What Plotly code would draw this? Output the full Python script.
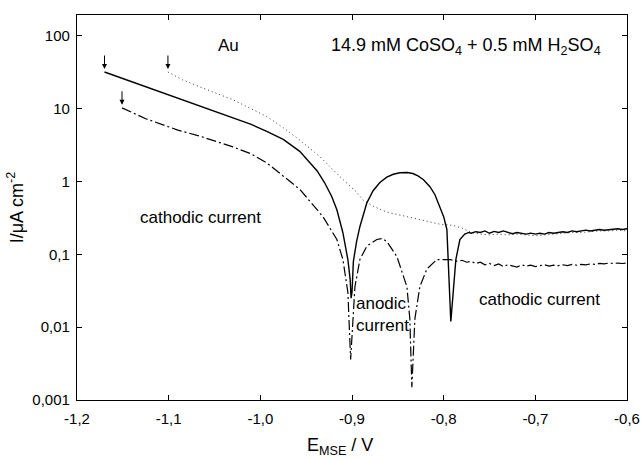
import math
import plotly.graph_objects as go

# Solid curve
E_solid = [-1.170, -1.150, -1.130, -1.100, -1.065, -1.030, -1.010, -0.993, -0.975, -0.957,
           -0.949, -0.938, -0.930, -0.922, -0.9165, -0.910, -0.9045, -0.9020, -0.9010, -0.9000,
           -0.8985, -0.8950, -0.8914, -0.8875, -0.8838, -0.8770, -0.8696, -0.8620, -0.8550, -0.8478,
           -0.8400, -0.8336, -0.8280, -0.8220, -0.8150, -0.8095, -0.8041, -0.8000, -0.7965, -0.7943,
           -0.7922, -0.7900, -0.7867, -0.7823, -0.7770,
           -0.7725, -0.7700, -0.7650, -0.7600, -0.7550, -0.7500, -0.7450, -0.7400, -0.7350, -0.7300,
           -0.7250, -0.7200, -0.7150, -0.7100, -0.7050, -0.7000, -0.6950, -0.6900, -0.6850, -0.6800,
           -0.6750, -0.6700, -0.6650, -0.6600, -0.6550, -0.6500, -0.6450, -0.6400, -0.6350, -0.6300,
           -0.6250, -0.6200, -0.6150, -0.6100, -0.6050, -0.6000]
I_solid = [32, 26, 21, 15.5, 10.9, 7.6, 6.1, 4.9, 3.8, 2.6,
           2.0, 1.4, 0.97, 0.62, 0.41, 0.20, 0.085, 0.045, 0.025, 0.03,
           0.08, 0.15, 0.24, 0.36, 0.51, 0.75, 0.97, 1.15, 1.26, 1.32,
           1.33, 1.29, 1.2, 1.06, 0.85, 0.66, 0.46, 0.33, 0.22, 0.063,
           0.012, 0.026, 0.085, 0.16, 0.19,
           0.20, 0.195, 0.205, 0.20, 0.21, 0.195, 0.207, 0.20, 0.21, 0.20,
           0.192, 0.20, 0.195, 0.19, 0.196, 0.19, 0.195, 0.19, 0.20, 0.195,
           0.20, 0.205, 0.20, 0.21, 0.205, 0.21, 0.215, 0.21, 0.215, 0.22,
           0.215, 0.22, 0.22, 0.225, 0.22, 0.225]

# Dotted curve
E_dot = [-1.1008, -1.085, -1.0659, -1.045, -1.0299, -1.010, -0.9928, -0.975, -0.9568, -0.935,
         -0.9132, -0.8947, -0.8881, -0.8772, -0.862, -0.8401, -0.820, -0.8041, -0.790, -0.7800,
         -0.7700, -0.7600, -0.7500, -0.7400, -0.7300, -0.7200, -0.7100, -0.7000, -0.6900, -0.6800,
         -0.6700, -0.6600, -0.6500, -0.6400, -0.6300, -0.6200, -0.6100, -0.6000]
I_dot = [32, 25, 20, 16, 13.3, 10, 7.8, 5.5, 3.7, 2.2,
         1.17, 0.71, 0.56, 0.46, 0.38, 0.33, 0.29, 0.26, 0.25, 0.23,
         0.20, 0.19, 0.185, 0.19, 0.185, 0.19, 0.185, 0.18, 0.185, 0.19,
         0.195, 0.20, 0.20, 0.205, 0.21, 0.21, 0.215, 0.21]

# Dash-dot curve
E_dd = [-1.1509, -1.1250, -1.090, -1.0659, -1.0299, -1.010, -0.9928, -0.975, -0.9568, -0.9450,
        -0.9317, -0.9165, -0.9099, -0.9045, -0.9015, -0.8968, -0.8914, -0.8838, -0.8729, -0.867,
        -0.8619, -0.851, -0.8401, -0.8369, -0.8347, -0.8314, -0.826, -0.8183, -0.8074, -0.7930,
        -0.7850, -0.7800, -0.7750, -0.7700, -0.7650, -0.7600, -0.7550, -0.7500, -0.7450, -0.7400,
        -0.7350, -0.7300, -0.7250, -0.7200, -0.7150, -0.7100, -0.7050, -0.7000, -0.6950, -0.6900,
        -0.6850, -0.6800, -0.6750, -0.6700, -0.6650, -0.6600, -0.6550, -0.6500, -0.6450, -0.6400,
        -0.6350, -0.6300, -0.6250, -0.6200, -0.6150, -0.6100, -0.6050, -0.6000]
I_dd = [10.3, 7.3, 5.1, 4.2, 3.0, 2.4, 1.8, 1.2, 0.78, 0.52,
        0.33, 0.16, 0.085, 0.03, 0.0036, 0.036, 0.085, 0.13, 0.16, 0.165,
        0.15, 0.093, 0.036, 0.013, 0.0015, 0.013, 0.036, 0.063, 0.085, 0.085,
        0.08, 0.083, 0.078, 0.08, 0.075, 0.078, 0.072, 0.075, 0.07, 0.074,
        0.068, 0.072, 0.07, 0.067, 0.072, 0.069, 0.071, 0.068, 0.07, 0.072,
        0.069, 0.071, 0.07, 0.072, 0.07, 0.073, 0.071, 0.073, 0.072, 0.074,
        0.073, 0.075, 0.074, 0.076, 0.075, 0.076, 0.075, 0.076]

x_ticks = [-1.2, -1.1, -1.0, -0.9, -0.8, -0.7, -0.6]
x_ticktext = ["-1,2", "-1,1", "-1,0", "-0,9", "-0,8", "-0,7", "-0,6"]
y_ticks = [0.001, 0.01, 0.1, 1, 10, 100]
y_ticktext = ["0,001", "0,01", "0,1", "1", "10", "100"]

FONT = "Liberation Sans, Arial, sans-serif"

fig = go.Figure()
fig.add_trace(go.Scatter(x=E_dot, y=I_dot, mode="lines",
                         line=dict(color="#333333", width=1, dash="1px,3px")))
fig.add_trace(go.Scatter(x=E_dd, y=I_dd, mode="lines",
                         line=dict(color="black", width=1.2, dash="10px,3px,2px,3px")))
fig.add_trace(go.Scatter(x=E_solid, y=I_solid, mode="lines",
                         line=dict(color="black", width=1.4)))

# arrows marking scan start (annotation y on log axes is given as log10)
for ex, iy in [(E_solid[0], I_solid[0]), (E_dot[0], I_dot[0]), (E_dd[0], I_dd[0])]:
    fig.add_annotation(x=ex, y=math.log10(iy), xref="x", yref="y",
                       showarrow=True, ax=0, ay=-18, arrowhead=2, arrowsize=1,
                       arrowwidth=1, arrowcolor="black", standoff=3, text="")

txt = dict(family=FONT, size=17, color="black")
fig.add_annotation(x=-1.035, y=1.87, xref="x", yref="y", yanchor="middle", xanchor="center",
                   text="Au", showarrow=False, font=dict(family=FONT, size=17, color="black"))
fig.add_annotation(x=-0.7758, y=1.85, xref="x", yref="y", yanchor="middle", xanchor="center",
                   text="14.9 mM CoSO<sub>4</sub> + 0.5 mM H<sub>2</sub>SO<sub>4</sub>",
                   showarrow=False, font=dict(family=FONT, size=18, color="black"))
fig.add_annotation(x=-1.065, y=-0.49, xref="x", yref="y", xanchor="center", yanchor="middle",
                   text="cathodic current", showarrow=False, font=txt)
fig.add_annotation(x=-0.8983, y=-1.83, xref="x", yref="y", xanchor="left", yanchor="middle",
                   text="anodic<br>current", align="left", showarrow=False, font=txt)
fig.add_annotation(x=-0.6955, y=-1.616, xref="x", yref="y", xanchor="center", yanchor="middle",
                   text="cathodic current", showarrow=False, font=txt)
# x-axis title
fig.add_annotation(x=0.5, y=0, xref="paper", yref="paper", xanchor="center", yanchor="top",
                   xshift=-12, yshift=-33, text="E<sub>MSE</sub> / V", showarrow=False,
                   font=dict(family=FONT, size=18, color="black"))

axis_common = dict(showline=True, linecolor="black", linewidth=1.3, mirror="ticks",
                   ticks="inside", ticklen=5, tickwidth=1, tickcolor="black",
                   showgrid=False, zeroline=False, automargin=False,
                   tickfont=dict(family=FONT, size=15, color="black"))

fig.update_xaxes(range=[-1.2, -0.6], tickvals=x_ticks, ticktext=x_ticktext,
                 ticklabelstandoff=5, **axis_common)
fig.update_yaxes(type="log", range=[-3, 2.288], tickvals=y_ticks, ticktext=y_ticktext,
                 ticklabelstandoff=3,
                 title=dict(text="I/μA cm<sup>-2</sup>", font=dict(family=FONT, size=18, color="black"),
                            standoff=4),
                 **axis_common)

fig.update_layout(width=641, height=459, margin=dict(l=77, r=14, t=15, b=59),
                  paper_bgcolor="white", plot_bgcolor="white", showlegend=False,
                  font=dict(family=FONT, color="black"))

fig.write_html("out.html")
